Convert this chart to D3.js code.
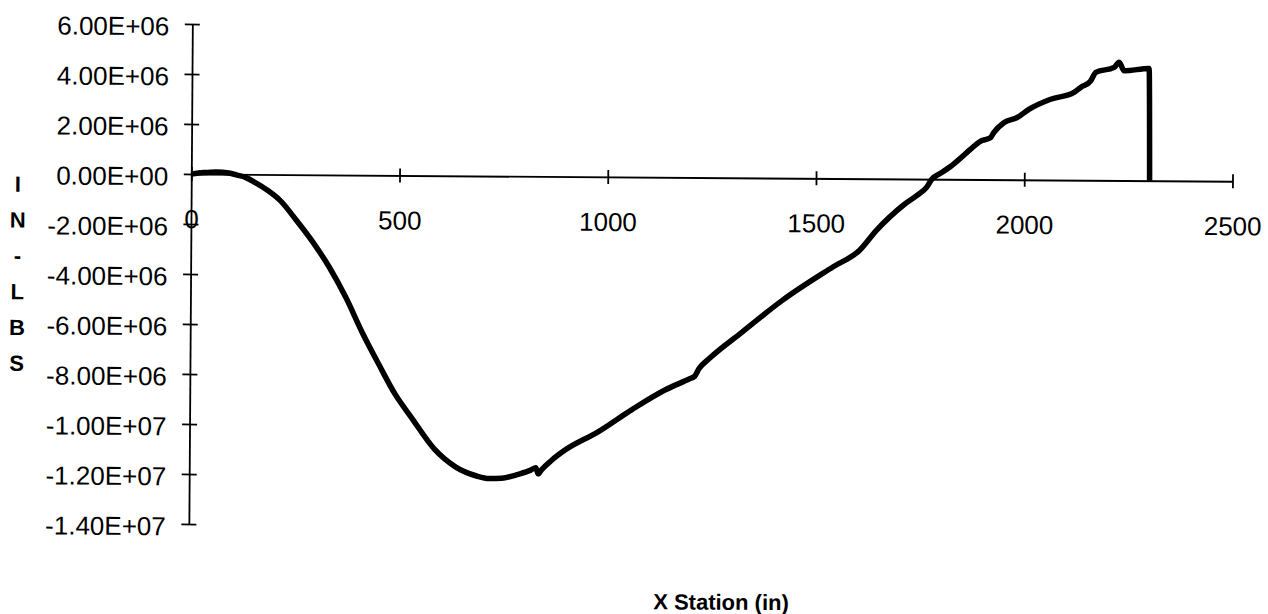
<!DOCTYPE html>
<html>
<head>
<meta charset="utf-8">
<script src="https://cdn.jsdelivr.net/npm/d3@7"></script>
<style>
  body { margin: 0; background: #fff; }
  svg { display: block; }
  text { font-family: "Century Gothic", "Liberation Sans", Arial, sans-serif; fill: #000; }
</style>
</head>
<body>
<svg id="chart" width="1268" height="614"></svg>
<script>
// x station (in)
var stations = [0, 30, 60, 90, 110, 130, 157, 185, 213, 253, 293, 333, 373, 413, 453, 493, 533, 589, 640, 690,
  720, 750, 790, 820, 832, 838, 845, 870, 901, 981, 1062, 1142, 1200, 1212, 1222, 1246, 1326, 1422, 1542, 1606,
  1646, 1678, 1710, 1742, 1766, 1778, 1798, 1822, 1846, 1870, 1894, 1918, 1926, 1950, 1982, 2010, 2062, 2118,
  2134, 2158, 2170, 2214, 2226, 2238, 2298, 2301];
// moment (in-lbs)
var moments = [0, 0.06e6, 0.09e6, 0.05e6, -0.03e6, -0.12e6, -0.36e6, -0.65e6, -1.02e6, -1.82e6, -2.69e6, -3.69e6,
  -4.89e6, -6.29e6, -7.55e6, -8.75e6, -9.69e6, -10.95e6, -11.65e6, -12.0e6, -12.1e6, -12.08e6, -11.92e6, -11.75e6,
  -11.65e6, -11.9e6, -11.75e6, -11.35e6, -10.95e6, -10.2e6, -9.3e6, -8.5e6, -8.05e6, -7.95e6, -7.65e6, -7.25e6,
  -6.16e6, -4.88e6, -3.54e6, -2.86e6, -2.06e6, -1.52e6, -1.05e6, -0.66e6, -0.32e6, 0, 0.23e6, 0.5e6, 0.84e6,
  1.2e6, 1.53e6, 1.67e6, 1.88e6, 2.28e6, 2.49e6, 2.82e6, 3.23e6, 3.51e6, 3.71e6, 3.98e6, 4.32e6, 4.52e6, 4.73e6,
  4.39e6, 4.49e6, 0];

var xTicks = [0, 500, 1000, 1500, 2000, 2500];
var yTicks = [6e6, 4e6, 2e6, 0, -2e6, -4e6, -6e6, -8e6, -10e6, -12e6, -14e6];
var yTitle = ["I", "N", "-", "L", "B", "S"];
var xTitle = "X Station (in)";

// 6.00E+06 style labels, plain hyphen for minus
var fmt = d3.formatLocale({decimal: ".", thousands: ",", grouping: [3], currency: ["", ""], minus: "-"}).format(".2e");
function sci(v) {
  var s = fmt(v).split("e");
  var ex = +s[1];
  return s[0] + "E" + (ex < 0 ? "-" : "+") + (Math.abs(ex) < 10 ? "0" : "") + Math.abs(ex);
}

var svg = d3.select("#chart");
// the scan is tilted a little clockwise
var g = svg.append("g").attr("transform", "rotate(0.4,191,174)");

var x = d3.scaleLinear().domain([0, 2500]).range([191.3, 1232.5]),
    y = d3.scaleLinear().domain([-14e6, 6e6]).range([524, 24]);

var xAxis = g.append("g")
  .attr("transform", "translate(0," + y(0) + ")")
  .call(d3.axisBottom(x).tickValues(xTicks).tickSize(0).tickFormat(d3.format("d")));
xAxis.selectAll(".tick line").attr("y1", -7).attr("y2", 7);
xAxis.selectAll(".tick text").attr("y", 54).attr("dy", 0).style("font-size", "26px");

var yAxis = g.append("g")
  .attr("transform", "translate(" + x(0) + ",0)")
  .call(d3.axisLeft(y).tickValues(yTicks).tickSize(0).tickFormat(sci));
yAxis.selectAll(".tick line").attr("x1", -7.5).attr("x2", 7.5);
yAxis.selectAll(".tick text").attr("x", -23).attr("dy", "0.42em").style("font-size", "26px");

g.selectAll(".domain, .tick line").attr("stroke", "#000").attr("stroke-width", 1.8);

var line = d3.line()
  .x(function(d, i) { return x(stations[i]); })
  .y(function(d) { return y(d); })
  .curve(d3.curveMonotoneX);

g.append("path")
  .datum(moments)
  .attr("d", line)
  .attr("fill", "none")
  .attr("stroke", "#000")
  .attr("stroke-width", 5.5)
  .attr("stroke-linejoin", "round");

// stacked y title
g.append("text")
  .style("font-size", "22px").style("font-weight", "bold")
  .attr("text-anchor", "middle")
  .selectAll("tspan")
  .data(yTitle)
  .enter().append("tspan")
  .attr("x", 18)
  .attr("y", function(d, i) { return 193 + i * 35.8; })
  .text(function(d) { return d; });

g.append("text")
  .attr("x", 724).attr("y", 606)
  .attr("text-anchor", "middle")
  .style("font-size", "22px").style("font-weight", "bold")
  .text(xTitle);
</script>
</body>
</html>
